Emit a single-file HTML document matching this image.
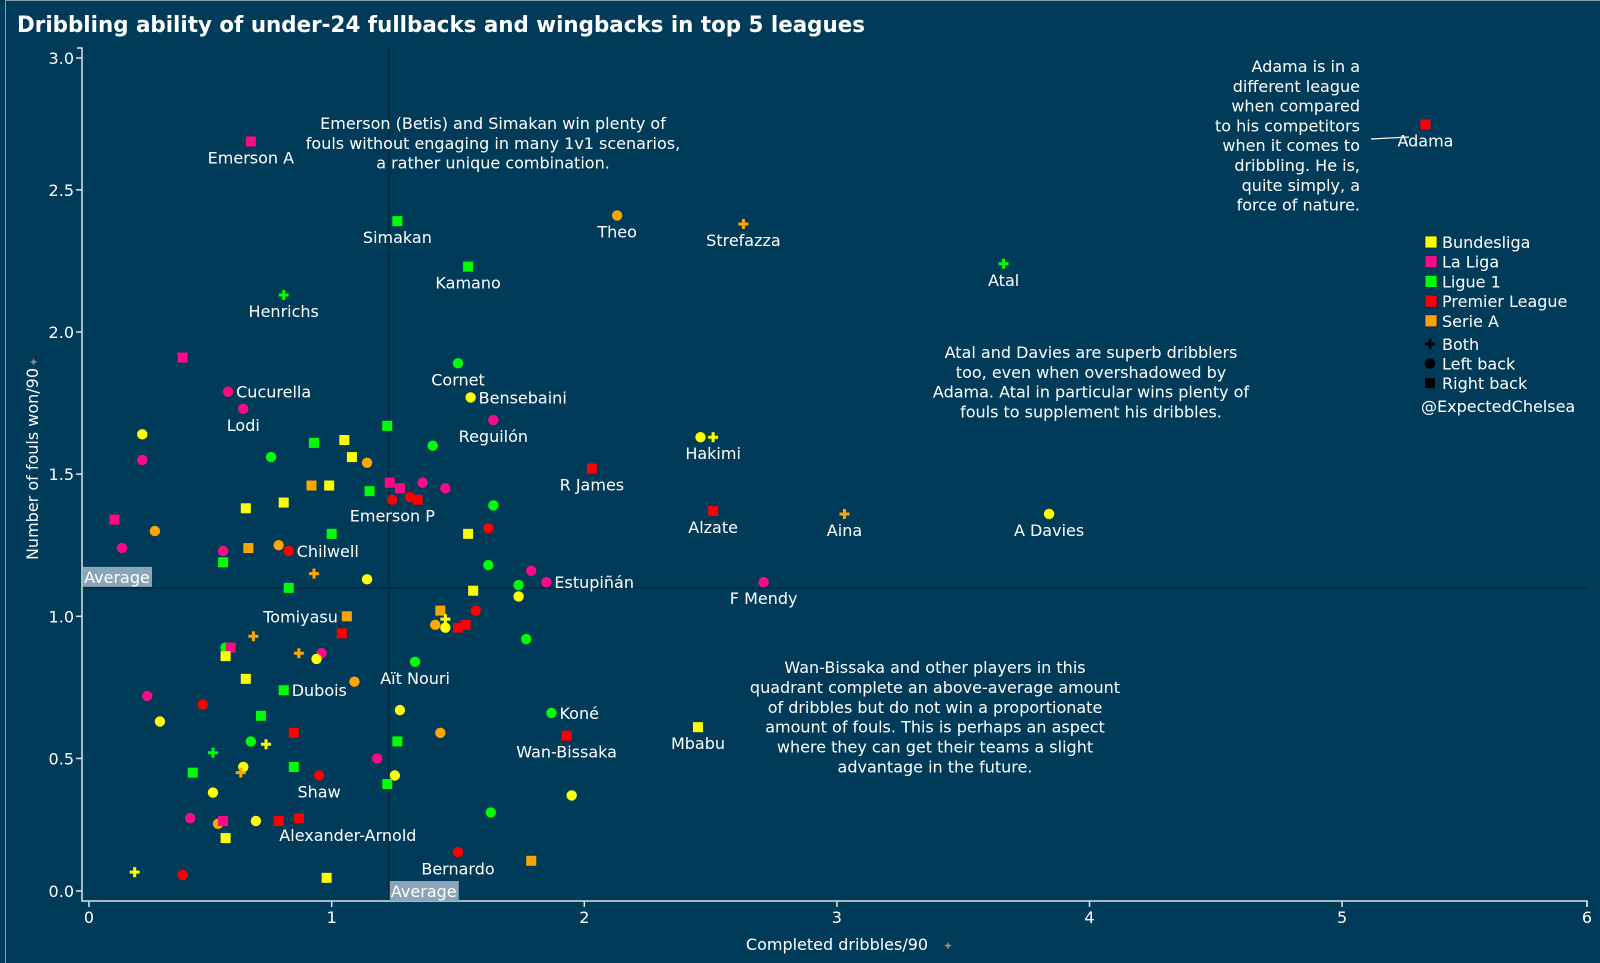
<!DOCTYPE html>
<html><head><meta charset="utf-8"><style>
html,body{margin:0;padding:0;background:#013b5a;}
svg{display:block;font-family:"DejaVu Sans","Liberation Sans",sans-serif;}
</style></head><body>
<svg id="chart" width="1600" height="963" viewBox="0 0 1600 963" xmlns="http://www.w3.org/2000/svg">
<rect x="0" y="0" width="1600" height="963" fill="#013b5a"/>
<line x1="5.5" y1="0" x2="5.5" y2="963" stroke="#8a9aa8" stroke-width="1"/>
<line x1="5" y1="0.5" x2="1600" y2="0.5" stroke="#8a9aa8" stroke-width="1"/>
<text x="17" y="32" fill="#fff" font-weight="bold" font-size="22" textLength="848" lengthAdjust="spacingAndGlyphs">Dribbling ability of under-24 fullbacks and wingbacks in top 5 leagues</text>
<g id="plot"></g>
</svg>
<script>
const xVals=[0.68,1.26,2.13,2.63,1.54,3.66,0.81,5.33,1.50,1.55,1.64,0.59,0.65,2.46,2.51,2.03,2.51,3.03,3.84,1.24,0.83,1.85,2.71,1.06,1.33,0.81,1.87,1.93,2.45,0.95,0.87,1.50,
0.41,0.25,0.25,0.14,0.17,0.30,0.76,0.93,1.05,1.08,1.14,1.22,1.40,0.92,0.99,1.15,0.66,0.81,1.00,0.67,0.79,0.57,0.57,0.93,1.14,0.83,1.64,1.62,1.54,1.62,1.79,1.74,1.74,1.56,1.57,1.43,1.41,1.45,1.45,1.50,1.53,1.77,1.04,0.69,0.58,0.60,0.58,0.87,0.96,0.94,0.66,1.09,0.27,0.49,0.32,1.27,0.72,0.85,1.43,0.68,0.74,0.53,1.26,1.18,0.65,0.64,0.85,0.45,1.25,1.22,0.53,1.63,1.95,0.44,0.55,0.57,0.70,0.79,0.58,1.79,0.22,0.41,0.98,1.23,1.27,1.31,1.34,1.36,1.45];
const yVals=[2.67,2.39,2.41,2.38,2.23,2.24,2.13,2.73,1.89,1.77,1.69,1.79,1.73,1.63,1.63,1.52,1.37,1.36,1.36,1.41,1.23,1.12,1.12,1.00,0.84,0.74,0.66,0.58,0.61,0.44,0.29,0.17,
1.91,1.64,1.55,1.34,1.24,1.30,1.56,1.61,1.62,1.56,1.54,1.67,1.60,1.46,1.46,1.44,1.38,1.40,1.29,1.24,1.25,1.23,1.19,1.15,1.13,1.10,1.39,1.31,1.29,1.18,1.16,1.11,1.07,1.09,1.02,1.02,0.97,0.99,0.96,0.96,0.97,0.92,0.94,0.93,0.89,0.89,0.86,0.87,0.87,0.85,0.78,0.77,0.72,0.69,0.63,0.67,0.65,0.59,0.59,0.56,0.55,0.52,0.56,0.50,0.47,0.45,0.47,0.45,0.44,0.41,0.38,0.31,0.37,0.29,0.27,0.28,0.28,0.28,0.22,0.14,0.10,0.09,0.08,1.47,1.45,1.42,1.41,1.47,1.45];
const leagues=['L','F','S','S','F','F','F','P','F','B','L','L','L','B','B','P','P','S','B','P','P','L','L','S','F','F','F','P','B','P','P','P',
'L','B','L','L','L','S','F','F','B','B','S','F','F','S','B','F','B','B','F','S','S','L','F','S','B','F','F','P','B','F','L','F','B','B','P','S','S','B','B','P','P','F','P','S','F','L','B','S','L','B','B','S','L','P','B','B','F','P','S','F','B','F','F','L','B','S','F','F','B','F','B','F','B','L','S','L','B','P','B','S','B','P','B','L','L','P','P','L','L'];
const positions=['s','s','c','p','s','p','p','s','c','c','c','c','c','c','p','s','s','p','c','c','c','c','c','s','c','s','c','s','s','c','s','c',
's','c','c','s','c','c','c','s','s','s','c','s','c','s','s','s','s','s','s','s','c','c','s','p','c','s','c','c','s','c','c','c','c','s','c','s','c','p','c','s','s','c','s','p','c','s','s','p','c','c','s','c','c','c','c','c','s','s','c','c','p','p','s','c','c','p','s','s','c','s','c','c','c','c','c','s','c','s','s','s','p','c','s','s','s','c','s','c','c'];
const names=['Emerson A','Simakan','Theo','Strefazza','Kamano','Atal','Henrichs','Adama','Cornet','Bensebaini','Reguilón','Cucurella','Lodi','','Hakimi','R James','Alzate','Aina','A Davies','Emerson P','Chilwell','Estupiñán','F Mendy','Tomiyasu','Aït Nouri','Dubois','Koné','Wan-Bissaka','Mbabu','Shaw','Alexander-Arnold','Bernardo'];
const labelPlace=['b','b','b','b','b','b','b','b','b','r','b','r','b','','b','b','b','b','b','b','r','r','b','l','b','r','r','b','b','b','aa','b'];
const avgX=1.226, avgY=1.10;
const xTicks=[0,1,2,3,4,5,6];
const yTicks=['0.0','0.5','1.0','1.5','2.0','2.5','3.0'];
const legendLeagues=['Bundesliga','La Liga','Ligue 1','Premier League','Serie A'];
const legendShapes=['Both','Left back','Right back'];

const colors={B:'#ffff00',L:'#ff0a84',F:'#00ff00',P:'#ff0000',S:'#ffa500'};
const sx=v=>79.1+252.6*v;
const sy=v=>900.6-284.3*v;
const NS='http://www.w3.org/2000/svg';
const plot=document.getElementById('plot');
function mk(tag,attrs,parent){const e=document.createElementNS(NS,tag);for(const k in attrs)e.setAttribute(k,attrs[k]);(parent||plot).appendChild(e);return e;}

let l=mk('line',{x1:sx(avgX),y1:48,x2:sx(avgX),y2:901,stroke:'#0b2536','stroke-width':1.2});


l=mk('line',{x1:82,y1:sy(avgY),x2:1587,y2:sy(avgY),stroke:'#0b2536','stroke-width':1.2});



let ax=mk('path',{d:'M77 48 H82 V901 H1587 V906',fill:'none',stroke:'#dde3e8','stroke-width':1.5});


xTicks.forEach((t,k)=>{
  let x=sx(t);
  if(k===0)x=89; if(k===xTicks.length-1)x=1587;
  mk('line',{x1:x,y1:901,x2:x,y2:907,stroke:'#dde3e8','stroke-width':1.5});
  const tx=mk('text',{x:x,y:923,fill:'#fff','font-size':16,'text-anchor':'middle'});
  tx.textContent=t;
  
  
});
yTicks.forEach((t,k)=>{
  let y=sy(parseFloat(t));
  if(k===0)y=891; if(k===yTicks.length-1)y=58;
  mk('line',{x1:76,y1:y,x2:82,y2:y,stroke:'#dde3e8','stroke-width':1.5});
  const tx=mk('text',{x:74,y:y+6,fill:'#fff','font-size':16,'text-anchor':'end'});
  tx.textContent=t;
  
  
});
let xt=mk('text',{x:837,y:950,fill:'#fff','font-size':16,'text-anchor':'middle'});
xt.textContent='Completed dribbles/90';


mk('text',{x:943,y:950,fill:'#888','font-size':12}).textContent='✦';
let yt=mk('text',{x:0,y:0,fill:'#fff','font-size':16,'text-anchor':'middle',transform:'translate(38,464) rotate(-90)'});
yt.textContent='Number of fouls won/90';


mk('text',{x:0,y:0,fill:'#888','font-size':12,transform:'translate(38,367) rotate(-90)'}).textContent='✦';

let ab=mk('rect',{x:sx(avgX)+1,y:881,width:69,height:20,fill:'#8aa5b5'});


let at=mk('text',{x:sx(avgX)+35,y:897,fill:'#fff','font-size':16,'text-anchor':'middle'});
at.textContent='Average';


ab=mk('rect',{x:83,y:sy(avgY)-21,width:69,height:20,fill:'#8aa5b5'});


at=mk('text',{x:117,y:sy(avgY)-5,fill:'#fff','font-size':16,'text-anchor':'middle'});
at.textContent='Average';



function marker(shape,cx,cy,col,parent){
  let e;
  if(shape==='c') e=mk('circle',{cx:cx,cy:cy,r:5.2,fill:col},parent);
  else if(shape==='s') e=mk('rect',{x:cx-5,y:cy-5,width:10,height:10,fill:col},parent);
  else e=mk('path',{d:`M${cx-5} ${cy}H${cx+5}M${cx} ${cy-5}V${cy+5}`,stroke:col,'stroke-width':3,fill:'none'},parent);
  return e;
}
for(let i=0;i<xVals.length;i++){
  const cx=sx(xVals[i]),cy=sy(yVals[i]);
  const m=marker(positions[i],cx,cy,colors[leagues[i]]);
  
  
}
for(let i=0;i<names.length;i++){
  if(!names[i])continue;
  const cx=sx(xVals[i]),cy=sy(yVals[i]);
  let a={fill:'#fff','font-size':16};
  const p=labelPlace[i];
  if(p==='b'){a.x=cx;a.y=cy+22;a['text-anchor']='middle';}
  else if(p==='r'){a.x=cx+8;a.y=cy+6;}
  else if(p==='l'){a.x=cx-9;a.y=cy+6;a['text-anchor']='end';}
  else {a.x=cx+49;a.y=cy+23;a['text-anchor']='middle';}
  const t=mk('text',a);
  t.textContent=names[i];
  
  
}
let ll=mk('line',{x1:1371,y1:139,x2:1409,y2:137,stroke:'#fff','stroke-width':1.2});



function block(lines,x,y0,dy,anchor,name){
  const g=mk('g',{});
  
  
  lines.forEach((s,k)=>{mk('text',{x:x,y:y0+k*dy,fill:'#fff','font-size':16,'text-anchor':anchor},g).textContent=s;});
}
block(['Emerson (Betis) and Simakan win plenty of','fouls without engaging in many 1v1 scenarios,','a rather unique combination.'],493,129,19.8,'middle','annotation-emerson-simakan');
block(['Adama is in a','different league','when compared','to his competitors','when it comes to','dribbling. He is,','quite simply, a','force of nature.'],1360,72,19.8,'end','annotation-adama');
block(['Atal and Davies are superb dribblers','too, even when overshadowed by','Adama. Atal in particular wins plenty of','fouls to supplement his dribbles.'],1091,358,19.8,'middle','annotation-atal-davies');
block(['Wan-Bissaka and other players in this','quadrant complete an above-average amount','of dribbles but do not win a proportionate','amount of fouls. This is perhaps an aspect','where they can get their teams a slight','advantage in the future.'],935,673,19.9,'middle','annotation-wan-bissaka');

const lc=['B','L','F','P','S'];
legendLeagues.forEach((n,k)=>{
  const y=242+k*19.7;
  const r=mk('rect',{x:1425,y:y-6,width:12,height:12,fill:colors[lc[k]],stroke:'#0a2a55','stroke-width':0.8});
  
  
  const t=mk('text',{x:1442,y:y+6,fill:'#fff','font-size':16});
  t.textContent=n;
  
  
});
['p','c','s'].forEach((s,k)=>{
  const y=344+k*19.6;
  marker(s,1430,y,'#000');
  const t=mk('text',{x:1442,y:y+6,fill:'#fff','font-size':16});
  t.textContent=legendShapes[k];
  
  
});
let cr=mk('text',{x:1421,y:412,fill:'#fff','font-size':16});
cr.textContent='@ExpectedChelsea';


</script>
</body></html>
